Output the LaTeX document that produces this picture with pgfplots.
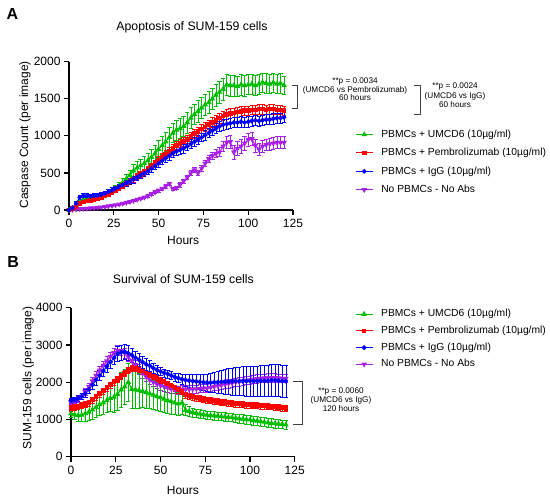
\documentclass[border=0pt]{standalone}
\usepackage{pgfplots}
\pgfplotsset{compat=1.18}
\usepackage{pgfplotstable}
\usepackage{fontspec}
\setmainfont{Liberation Sans}

\definecolor{cg}{RGB}{0,190,0}
\definecolor{cr}{RGB}{255,0,0}
\definecolor{cb}{RGB}{0,0,255}
\definecolor{cp}{RGB}{170,30,230}

\pgfplotstableread{
h g ge r re b be p pe
0 0 5 0 5 0 5 0 2
2 20 10 20 10 30 15 5 3
4 60 20 50 15 90 25 10 3
6 110 25 90 20 170 30 15 4
8 140 25 110 20 195 30 18 4
10 150 25 120 20 190 30 20 5
12 155 25 130 20 185 30 25 5
14 165 25 140 20 190 30 28 5
16 180 30 150 20 195 30 32 6
18 195 30 170 25 210 30 38 6
20 215 35 190 25 225 30 45 7
22 240 35 215 25 245 35 52 8
24 265 40 240 30 265 35 60 8
26 295 45 270 30 290 35 68 9
28 330 50 300 30 315 35 78 10
30 370 55 330 35 340 40 88 10
32 420 60 360 35 365 40 100 12
34 470 70 390 35 385 40 112 12
36 530 80 420 40 410 45 125 14
38 570 85 450 40 440 45 140 15
40 600 90 480 40 470 45 155 15
42 630 95 510 40 495 45 170 16
44 665 100 550 45 525 50 190 18
46 710 105 590 45 560 50 215 18
48 760 110 630 45 595 50 240 20
50 820 115 670 50 630 50 265 20
52 870 120 710 50 665 55 290 22
54 920 125 750 50 700 55 320 22
56 980 130 790 50 730 55 355 25
58 1040 130 830 55 765 55 285 25
60 1080 135 870 55 790 55 300 25
62 1100 135 900 55 810 60 340 28
64 1130 140 920 55 830 60 390 30
66 1180 140 950 55 860 60 440 30
68 1240 140 990 60 890 60 500 35
70 1290 140 1030 60 920 60 540 35
72 1330 145 1060 60 950 60 500 35
74 1380 145 1090 60 980 60 560 40
76 1420 145 1120 60 1010 65 630 40
78 1450 145 1150 60 1040 65 690 45
80 1500 145 1180 65 1070 65 730 50
82 1550 145 1210 65 1100 65 760 55
84 1590 145 1240 65 1130 65 780 60
86 1630 145 1270 65 1150 70 860 70
88 1690 145 1290 65 1160 70 910 80
90 1680 140 1300 65 1170 70 920 90
92 1680 140 1310 65 1180 70 780 90
94 1670 140 1320 65 1180 70 830 90
96 1690 140 1330 65 1190 70 860 90
98 1680 140 1340 65 1180 70 900 90
100 1690 135 1340 65 1190 70 950 90
102 1700 135 1350 65 1200 70 960 90
104 1680 135 1350 65 1210 70 870 85
106 1700 135 1360 65 1200 70 820 85
108 1720 130 1360 65 1210 70 860 85
110 1710 130 1350 65 1220 70 880 80
112 1700 130 1360 65 1220 70 890 80
114 1720 130 1360 65 1230 70 900 80
116 1700 130 1350 60 1240 70 910 80
118 1710 130 1350 60 1240 70 910 80
120 1680 120 1340 60 1250 70 910 80
}\topdata

\pgfplotstableread{
h g ge r re b be p pe
0 1160 100 1300 80 1500 60 1470 60
2 1130 120 1320 80 1530 70 1500 60
4 1110 150 1340 80 1560 80 1540 70
6 1120 180 1370 80 1620 90 1620 80
8 1160 200 1400 80 1700 100 1740 90
10 1200 230 1440 80 1810 110 1880 100
12 1260 250 1520 80 1930 120 2030 100
14 1330 270 1600 80 2060 130 2180 110
16 1400 290 1680 80 2180 140 2320 110
18 1450 310 1760 80 2300 150 2450 120
20 1510 330 1840 80 2420 160 2570 120
22 1570 360 1920 80 2540 170 2690 120
24 1600 400 2000 80 2650 180 2790 130
26 1680 430 2080 80 2760 200 2850 130
28 1800 460 2160 80 2800 200 2850 130
30 1880 480 2240 80 2820 200 2780 130
32 2000 500 2320 80 2780 200 2680 130
34 1810 520 2370 80 2730 190 2580 130
36 1800 500 2370 80 2660 180 2470 130
38 1780 470 2340 80 2600 170 2350 130
40 1760 440 2300 80 2540 160 2240 130
42 1730 420 2250 80 2480 150 2150 120
44 1690 400 2200 80 2440 140 2060 120
46 1660 380 2150 80 2380 130 2000 120
48 1620 370 2100 80 2330 120 1950 120
50 1590 360 2050 80 2290 110 1910 120
52 1550 350 2000 80 2250 110 1880 120
54 1510 340 1950 80 2220 110 1850 110
56 1480 330 1900 80 2180 110 1820 110
58 1450 320 1840 80 2140 110 1800 110
60 1420 310 1790 80 2110 120 1790 110
62 1450 300 1750 80 2080 140 1800 110
64 1250 150 1660 80 2060 160 1810 110
66 1220 130 1630 80 2040 170 1810 110
68 1190 120 1600 80 2030 180 1810 110
70 1170 110 1580 80 2020 190 1820 110
72 1150 110 1560 80 2010 200 1830 110
74 1130 110 1540 80 2000 210 1840 110
76 1120 110 1520 80 1990 230 1840 110
78 1110 110 1510 80 1990 250 1860 110
80 1100 110 1490 80 2000 270 1880 110
82 1090 110 1480 80 2000 290 1900 110
84 1080 110 1460 80 2010 310 1920 110
86 1070 110 1450 80 2010 330 1940 110
88 1060 110 1440 80 2020 350 1960 110
90 1050 110 1430 80 2020 360 1980 110
92 1040 110 1420 80 2030 370 2000 110
94 1020 110 1410 80 2030 380 2010 110
96 1010 120 1400 80 2030 390 2030 110
98 1000 120 1390 80 2030 400 2050 110
100 990 120 1390 80 2030 400 2060 110
102 975 120 1380 80 2030 410 2080 110
104 960 120 1370 80 2030 410 2090 110
106 945 120 1360 80 2040 420 2100 110
108 930 120 1360 80 2040 420 2110 110
110 915 120 1350 80 2040 420 2120 110
112 900 120 1340 80 2050 430 2120 110
114 890 120 1330 80 2050 430 2120 110
116 880 120 1320 80 2040 430 2110 110
118 870 120 1310 80 2030 430 2100 110
120 860 120 1300 80 2030 430 2100 110
}\botdata

\pgfplotsset{
  gp/.style={
    scale only axis,
    axis x line=bottom, axis y line=left,
    axis line style={-, line width=1.2bp, black},
    tick align=outside, major tick length=5bp,
    every tick/.style={black, line width=1.2bp},
    tick label style={font=\fontsize{12bp}{14bp}\selectfont},
    xticklabel style={yshift=-1bp},
    label style={font=\fontsize{12bp}{14bp}\selectfont},
    title style={font=\fontsize{12.3bp}{14bp}\selectfont},
    /pgf/number format/assume math mode=true,
    /pgf/number format/1000 sep={},
    xmin=0, xmax=125, xtick={0,25,...,125},
    clip=false,
    legend cell align=left,
    legend style={draw=none, fill=none, inner sep=0pt,
      font=\fontsize{10.3bp}{12bp}\selectfont,
      /tikz/every odd column/.append style={column sep=7bp},
      nodes={inner sep=1bp, text height=8bp, text depth=2.5bp}},
  },
  eb/.style={error bars/y dir=both, error bars/y explicit,
    error bars/error bar style={line width=0.55bp, #1},
    error bars/error mark options={rotate=90, mark size=2.2bp, line width=0.55bp, #1}},
  sg/.style={cg, line width=1bp, mark=triangle*, mark size=2.3bp, mark options={solid, fill=cg}, eb=cg},
  sr/.style={cr, line width=1bp, mark=square*, mark size=1.8bp, mark options={solid, fill=cr}, eb=cr},
  sb/.style={cb, line width=1bp, mark=*, mark size=1.9bp, mark options={solid, fill=cb}, eb=cb},
  sp/.style={cp, line width=1bp, mark=triangle*, mark size=2.3bp, mark options={solid, fill=cp, rotate=180}, eb=cp},
}

\begin{document}
\begin{tikzpicture}[x=1bp, y=1bp]
\useasboundingbox (0,0) rectangle (550,499);

\begin{axis}[gp,
  at={(69bp,289bp)}, anchor=south west,
  width=224bp, height=148.3bp,
  ymin=0, ymax=2000, ytick={0,500,...,2000},
  xlabel={Hours}, ylabel={Caspase Count (per image)},
  xlabel style={at={(axis description cs:0.51,-0.202)}, anchor=center},
  ylabel style={at={(axis description cs:-0.196,0.506)}, anchor=center, rotate=0},
  title={Apoptosis of SUM-159 cells},
  title style={at={(axis description cs:0.549,1.1935)}, anchor=center},
  legend style={at={(1.277,0.552)}, anchor=north west, row sep=5.9bp},
]
\addplot[sp, forget plot] table[x=h, y=p, y error=pe]{\topdata};
\addplot[sg] table[x=h, y=g, y error=ge]{\topdata};
\addlegendentry{PBMCs + UMCD6 (10µg/ml)}
\addplot[sr] table[x=h, y=r, y error=re]{\topdata};
\addlegendentry{PBMCs + Pembrolizumab (10µg/ml)}
\addplot[sb] table[x=h, y=b, y error=be]{\topdata};
\addlegendentry{PBMCs + IgG (10µg/ml)}
\addlegendimage{cp, line width=1bp, mark=triangle*, mark size=2.3bp, mark options={solid, fill=cp, rotate=180}}
\addlegendentry{No PBMCs - No Abs}
\end{axis}

\begin{axis}[gp,
  at={(71bp,42.3bp)}, anchor=south west,
  width=223.75bp, height=149bp,
  ymin=0, ymax=4000, ytick={0,1000,...,4000},
  xlabel={Hours}, ylabel={SUM-159 cells (per image)},
  xlabel style={at={(axis description cs:0.5,-0.2235)}, anchor=center},
  ylabel style={at={(axis description cs:-0.191,0.528)}, anchor=center, rotate=0},
  title={Survival of SUM-159 cells},
  title style={at={(axis description cs:0.502,1.152)}, anchor=center},
  legend style={at={(1.269,1.0)}, anchor=north west, row sep=4.2bp},
]
\addplot[sp, forget plot] table[x=h, y=p, y error=pe]{\botdata};
\addplot[sg] table[x=h, y=g, y error=ge]{\botdata};
\addlegendentry{PBMCs + UMCD6 (10µg/ml)}
\addplot[sr] table[x=h, y=r, y error=re]{\botdata};
\addlegendentry{PBMCs + Pembrolizumab (10µg/ml)}
\addplot[sb] table[x=h, y=b, y error=be]{\botdata};
\addlegendentry{PBMCs + IgG (10µg/ml)}
\addlegendimage{cp, line width=1bp, mark=triangle*, mark size=2.3bp, mark options={solid, fill=cp, rotate=180}}
\addlegendentry{No PBMCs - No Abs}
\end{axis}

% panel letters
\node[font=\bfseries\fontsize{16bp}{16bp}\selectfont] at (12.5,484.8) {A};
\node[font=\bfseries\fontsize{16bp}{16bp}\selectfont] at (13.2,237.3) {B};

% annotations
\node[align=center, font=\fontsize{8.2bp}{8.8bp}\selectfont] at (355,409.7) {**p = 0.0034\\(UMCD6 vs Pembrolizumab)\\60 hours};
\draw[line width=1bp, black!75] (291.5,413) -- (297,413) -- (297,390) -- (291.5,390);
\node[align=center, font=\fontsize{8.2bp}{9.5bp}\selectfont] at (455,403.5) {**p = 0.0024\\(UMCD6 vs IgG)\\60 hours};
\draw[line width=1bp, black!75] (414,413) -- (420.7,413) -- (420.7,384) -- (414,384);
\node[align=center, font=\fontsize{8.2bp}{9bp}\selectfont] at (341,99.5) {**p = 0.0060\\(UMCD6 vs IgG)\\120 hours};
\draw[line width=1bp, black!75] (293,117.3) -- (302,117.3) -- (302,74) -- (293,74);
\end{tikzpicture}
\end{document}
